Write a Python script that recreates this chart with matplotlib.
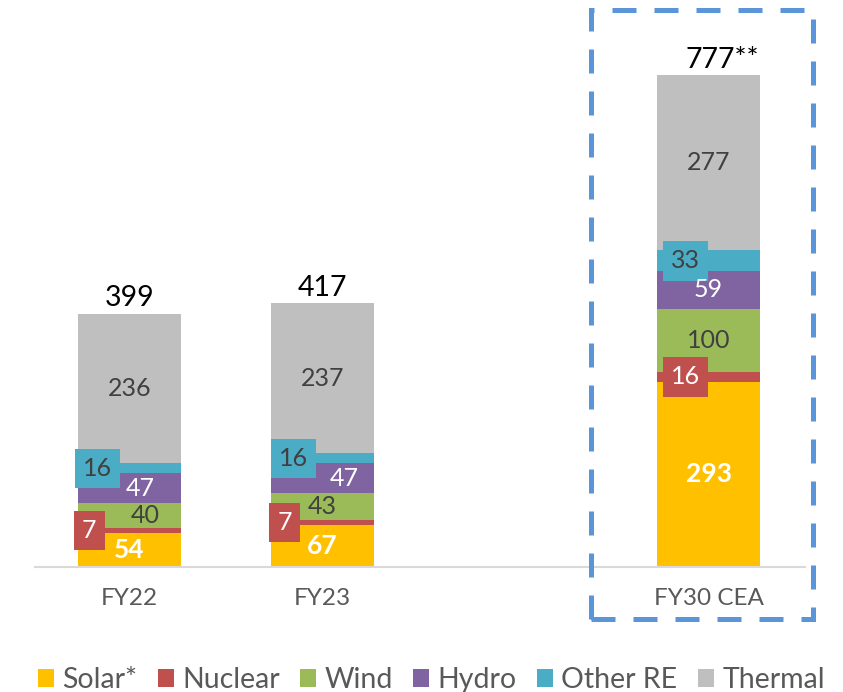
import matplotlib
matplotlib.use("Agg")
import matplotlib.pyplot as plt
from matplotlib import font_manager
from matplotlib.patches import Rectangle, Patch

# data, bottom to top of each stack
years = ["FY22", "FY23", "FY30 CEA"]
positions = [0, 1, 3]
sources = ["Solar*", "Nuclear", "Wind", "Hydro", "Other RE", "Thermal"]
solar = [54, 67, 293]
nuclear = [7, 7, 16]
wind = [40, 43, 100]
hydro = [47, 47, 59]
other_re = [16, 16, 33]
thermal = [236, 237, 277]
totals = ["399", "417", "777**"]

colors = ["#FFC000", "#C0504D", "#9BBB59", "#8064A2", "#4BACC6", "#BFBFBF"]
series = [solar, nuclear, wind, hydro, other_re, thermal]

available = {f.name for f in font_manager.fontManager.ttflist}
main_font = "Lato" if "Lato" in available else "DejaVu Sans"
plt.rcParams["font.family"] = [main_font, "DejaVu Sans"]

fig = plt.figure(figsize=(8.43, 6.92), dpi=100)
ax = fig.add_axes([35 / 843, 125 / 692, 770 / 843, 557 / 692])

bottoms = [0, 0, 0]
for vals, col in zip(series, colors):
    ax.bar(positions, vals, width=0.53, bottom=bottoms, color=col, edgecolor="none")
    bottoms = [b + v for b, v in zip(bottoms, vals)]

ax.set_xlim(-0.49, 3.5)
ax.set_ylim(0, 557 / 0.632)

# label style per series: text colour, bold, boxed
dark = "#404040"
text_cols = ["white", "white", dark, "white", dark, dark]
# small horizontal nudges (data units) for in-bar labels, as in the original
nudge = {
    (0, 2): 0.083, (0, 3): 0.057, (1, 3): 0.11,
    (0, 1): -0.21, (1, 1): -0.195, (2, 1): -0.12,
    (0, 4): -0.166, (1, 4): -0.15, (2, 4): -0.12,
}
base = [0, 0, 0]
for s, (vals, col) in enumerate(zip(series, colors)):
    for i, (x, v) in enumerate(zip(positions, vals)):
        y = base[i] + v / 2
        dx = nudge.get((i, s), 0)
        kw = dict(ha="center", va="center", fontsize=18, color=text_cols[s], zorder=4)
        if s == 0:
            kw["fontweight"] = "bold"
            kw["fontsize"] = 19
        if s in (1, 4):
            kw["bbox"] = dict(boxstyle="square,pad=0.33", fc=col, ec="none")
            kw["zorder"] = 3
        ax.text(x + dx, y, str(v), **kw)
        base[i] += v

for x, top, lab in zip(positions, bottoms, totals):
    dx = 0.07 if lab.endswith("*") else 0
    ax.annotate(lab, (x + dx, top), xytext=(0, 2), textcoords="offset points",
                ha="center", va="bottom", fontsize=20.5, color="black")

for side in ["top", "left", "right"]:
    ax.spines[side].set_visible(False)
ax.spines["bottom"].set_color("#D9D9D9")
ax.spines["bottom"].set_linewidth(1.5)
ax.set_yticks([])
ax.set_xticks(positions)
ax.set_xticklabels(years, fontsize=17.5, color="#595959")
ax.tick_params(axis="x", length=0, pad=15)

# dashed frame round the FY30 column
frame = Rectangle((591 / 843, (692 - 619) / 692), (813 - 591) / 843, (619 - 10) / 692,
                  transform=fig.transFigure, fill=False, ec="#5B95D9", lw=3.6,
                  linestyle=(0, (4.8, 3.6)), clip_on=False)
fig.patches.append(frame)

handles = [Patch(facecolor=c, edgecolor="none") for c in colors]
leg = fig.legend(handles, sources, loc="center", bbox_to_anchor=(0.512, 12 / 692), ncol=6,
                 frameon=False, handlelength=0.55, handleheight=0.55, handletextpad=0.3,
                 columnspacing=0.72, prop={"size": 20.5})
for t in leg.get_texts():
    t.set_color("#595959")

fig.savefig("out.png", dpi=100)
